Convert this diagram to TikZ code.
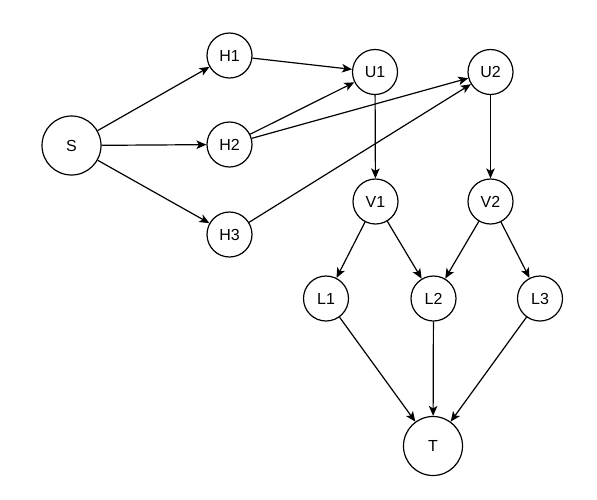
\documentclass[tikz,border=0pt]{standalone}
\usepackage{fontspec}
\setmainfont{Liberation Sans}
\usetikzlibrary{arrows.meta}

\begin{document}
\begin{tikzpicture}[x=1pt,y=-1pt,
    vert/.style={draw,circle,line width=1.2pt,inner sep=0pt,minimum size=45pt,font=\fontsize{16}{19}\selectfont},
    bigvert/.style={vert,minimum size=59pt},
    arc/.style={line width=1.2pt,-{Stealth[length=10pt,width=8.5pt,inset=2.5pt]}}]
  \useasboundingbox (0,0) rectangle (597,499);
  % source and sink
  \node[bigvert] (s) at (71.5,145.5) {S};
  \node[bigvert] (t) at (433,446) {T};
  % first layer
  \node[vert] (h1) at (229.5,55.5) {H1};
  \node[vert] (h2) at (229.5,144.5) {H2};
  \node[vert] (h3) at (229.5,234.5) {H3};
  \node[vert] (u1) at (375,72) {U1};
  \node[vert] (u2) at (490.5,72) {U2};
  \node[vert] (v1) at (375.5,201.5) {V1};
  \node[vert] (v2) at (490.5,201.5) {V2};
  % last layer
  \node[vert] (l1) at (326,298.5) {L1};
  \node[vert] (l2) at (433.5,298.5) {L2};
  \node[vert] (l3) at (540,298.5) {L3};

  \foreach \a/\b in {s/h1,s/h2,s/h3,h1/u1,h2/u1,h2/u2,h3/u2,u1/v1,u2/v2,
                     v1/l1,v1/l2,v2/l2,v2/l3,l1/t,l2/t,l3/t}
    \draw[arc] (\a) -- (\b);
\end{tikzpicture}
\end{document}
